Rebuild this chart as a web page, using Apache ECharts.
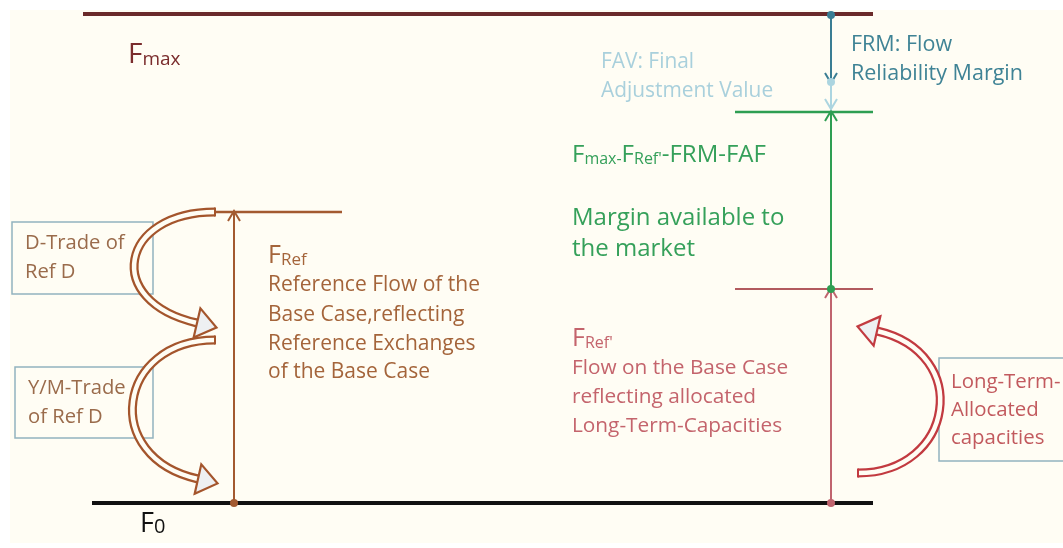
<!DOCTYPE html>
<html lang="en">
<head>
  <meta charset="UTF-8">
  <title>Flow margins</title>
  <script src="https://cdn.jsdelivr.net/npm/echarts@6/dist/echarts.min.js"></script>
  <style>
    html, body { margin: 0; padding: 0; background: #fff; }
    #main { width: 1063px; height: 548px; }
  </style>
</head>
<body>
  <div id="main"></div>
  <script>
    // flow levels (y axis = flow, F0 = 0)
    const levelNames = ['Fmax', 'FRef', "FRef'", 'Fmax-FRM-FAV', 'F0']
    const levelFlow = [489, 291, 214, 391, 0]
    const levelFrom = [83, 215, 735, 735, 92]
    const levelTo = [873, 342, 873, 873, 873]

    // vertical arrows between levels
    const arrowNames = ['FRef', "FRef'", 'Margin', 'FRM', 'FAV']
    const arrowPos = [234, 831, 831, 831, 831]
    const arrowFrom = [0, 0, 214, 488, 421]
    const arrowTo = [291, 214, 391, 421, 395]

    // trade boxes
    const boxNames = ['D-Trade', 'Y/M-Trade', 'Long-Term']
    const boxLeft = [12, 15, 939]
    const boxRight = [153, 153, 1075]
    const boxTop = [281, 136, 145]
    const boxBottom = [209, 65, 42]

    // curved arrows (tail -> head)
    const curveX0 = [215, 215, 858]
    const curveY0 = [291, 163, 30]
    const curveX1 = [197, 198, 877]
    const curveY1 = [180, 24, 172]
    const curveBend = [-95, -98, 96]

    // texts
    const textContent = [
      '{b|F}{s|max}', '{b|F}{s|0}', '{b|F}{s|Ref}',
      'Reference Flow of the', 'Base Case,reflecting', 'Reference Exchanges', 'of the Base Case',
      'D-Trade of', 'Ref D', 'Y/M-Trade', 'of Ref D',
      'FAV: Final', 'Adjustment Value', 'FRM: Flow', 'Reliability Margin',
      "{b|F}{s|max-}{b|F}{s|Ref'}{b|-FRM-FAF}", 'Margin available to', 'the market',
      "{b|F}{s|Ref'}", 'Flow on the Base Case', 'reflecting allocated', 'Long-Term-Capacities',
      'Long-Term-', 'Allocated', 'capacities'
    ]
    const textX = [128, 140, 268, 268, 268, 268, 268, 25, 25, 28, 28, 601, 601, 851, 851,
      572, 572, 572, 572, 572, 572, 572, 951, 951, 951]
    const textY = [448, -21, 247, 218, 188, 159, 131, 260, 231, 115, 86, 441, 412, 458, 429,
      348, 285, 254, 164, 135, 106, 77, 121, 93, 65]
    const textKind = ['fmax', 'f0', 'ref', 'ref', 'ref', 'ref', 'ref', 'box', 'box', 'box', 'box',
      'fav', 'fav', 'frm', 'frm', 'green', 'green2', 'green2', 'red', 'red', 'red', 'red', 'lt', 'lt', 'lt']

    // styles
    const FONT = '"Open Sans", "Noto Sans", sans-serif'
    const CREAM = '#fffdf4'
    const levelColors = ['#6b2a2a', '#a35a30', '#b25a5e', '#2e9e52', '#111111']
    const levelWidths = [4, 2.5, 2, 2.5, 4]
    const arrowColors = ['#a35a30', '#c0646e', '#2e9e52', '#3a7d93', '#acd5e0']
    const curveColors = ['#a4552c', '#a4552c', '#c23a40']
    const kindStyle = {
      fmax: { color: '#7a2c2c', size: 18, b: 28, s: 19 },
      f0: { color: '#111111', size: 18, b: 27, s: 20 },
      ref: { color: '#a4643a', size: 21, b: 25, s: 17 },
      box: { color: '#9a6b4b', size: 20.2 },
      fav: { color: '#a9d0dc', size: 20.9 },
      frm: { color: '#3f8395', size: 21.5 },
      green: { color: '#35a05a', size: 20, b: 24, s: 16 },
      green2: { color: '#35a05a', size: 24 },
      red: { color: '#c4646c', size: 20.8, b: 25, s: 16 },
      lt: { color: '#c25a5e', size: 20.4 }
    }

    const myChart = echarts.init(document.getElementById('main'))

    const option = {
      animation: false,
      backgroundColor: '#ffffff',
      graphic: [{
        type: 'rect', z: -10,
        shape: { x: 10, y: 10, width: 1053, height: 533 },
        style: { fill: CREAM }
      }],
      grid: { left: 0, right: 0, top: 0, bottom: 0 },
      xAxis: { type: 'value', min: 0, max: 1063, show: false },
      yAxis: { type: 'value', min: -45, max: 503, show: false },
      series: [
        {
          // boxes
          type: 'custom',
          data: boxNames.map((n, i) => [boxLeft[i], boxTop[i], boxRight[i], boxBottom[i]]),
          renderItem(params, api) {
            const a = api.coord([api.value(0), api.value(1)])
            const b = api.coord([api.value(2), api.value(3)])
            return {
              type: 'rect',
              shape: { x: a[0], y: a[1], width: b[0] - a[0], height: b[1] - a[1] },
              style: { fill: 'none', stroke: '#93b3bf', lineWidth: 1.5 }
            }
          }
        },
        {
          // levels
          type: 'custom',
          data: levelNames.map((n, i) => [levelFrom[i], levelTo[i], levelFlow[i]]),
          renderItem(params, api) {
            const i = params.dataIndex
            const a = api.coord([api.value(0), api.value(2)])
            const b = api.coord([api.value(1), api.value(2)])
            return {
              type: 'line',
              shape: { x1: a[0], y1: a[1], x2: b[0], y2: b[1] },
              style: { stroke: levelColors[i], lineWidth: levelWidths[i], fill: 'none' }
            }
          }
        },
        {
          // hollow curved arrows
          type: 'custom',
          data: curveX0.map((x, i) => [x, curveY0[i], curveX1[i], curveY1[i], curveBend[i]]),
          renderItem(params, api) {
            const i = params.dataIndex
            const c = curveColors[i]
            const p0 = api.coord([api.value(0), api.value(1)])
            const p3 = api.coord([api.value(2), api.value(3)])
            const bend = api.coord([api.value(0) + api.value(4), api.value(1)])[0] - p0[0]
            const tilt = 22 * Math.sign(bend)
            const p1 = [p0[0] + bend, p0[1]]
            const p2 = [p3[0] + bend, p3[1] + tilt]
            let dx = p3[0] - p2[0], dy = p3[1] - p2[1]
            const len = Math.hypot(dx, dy)
            dx /= len; dy /= len
            const nx = -dy, ny = dx
            const L = 20, W = 15
            const tip = [p3[0] + dx * L, p3[1] + dy * L]
            const shape = { x1: p0[0], y1: p0[1], cpx1: p1[0], cpy1: p1[1], cpx2: p2[0], cpy2: p2[1], x2: p3[0], y2: p3[1] }
            return {
              type: 'group',
              children: [
                { type: 'bezierCurve', shape, style: { stroke: c, lineWidth: 9, fill: 'none' } },
                { type: 'bezierCurve', shape, style: { stroke: CREAM, lineWidth: 4.5, fill: 'none' } },
                {
                  type: 'line',
                  shape: { x1: p0[0], y1: p0[1] - 4.5, x2: p0[0], y2: p0[1] + 4.5 },
                  style: { stroke: c, lineWidth: 2 }
                },
                {
                  type: 'polygon',
                  shape: { points: [[p3[0] + nx * W, p3[1] + ny * W], tip, [p3[0] - nx * W, p3[1] - ny * W]] },
                  style: { fill: '#eef0f2', stroke: c, lineWidth: 2.2 }
                }
              ]
            }
          }
        },
        {
          // vertical arrows
          type: 'custom',
          data: arrowNames.map((n, i) => [arrowPos[i], arrowFrom[i], arrowTo[i]]),
          renderItem(params, api) {
            const i = params.dataIndex
            const c = arrowColors[i]
            const p0 = api.coord([api.value(0), api.value(1)])
            const p1 = api.coord([api.value(0), api.value(2)])
            const dir = p1[1] < p0[1] ? -1 : 1
            const h = 9, w = 6
            return {
              type: 'group',
              children: [
                { type: 'line', shape: { x1: p0[0], y1: p0[1], x2: p1[0], y2: p1[1] }, style: { stroke: c, lineWidth: 2 } },
                {
                  type: 'polyline',
                  shape: { points: [[p1[0] - w, p1[1] - dir * h], [p1[0], p1[1] + dir], [p1[0] + w, p1[1] - dir * h]] },
                  style: { stroke: c, lineWidth: 2, fill: 'none' }
                },
                { type: 'circle', shape: { cx: p0[0], cy: p0[1], r: 4 }, style: { fill: c } }
              ]
            }
          }
        },
        {
          // texts
          type: 'custom',
          data: textContent.map((t, i) => [textX[i], textY[i]]),
          renderItem(params, api) {
            const i = params.dataIndex
            const k = kindStyle[textKind[i]]
            const p = api.coord([api.value(0), api.value(1)])
            const rich = k.b ? {
              b: { fontSize: k.b, lineHeight: k.b, fontFamily: FONT, fill: k.color },
              s: { fontSize: k.s, lineHeight: k.s, fontFamily: FONT, fill: k.color, verticalAlign: 'bottom' }
            } : undefined
            return {
              type: 'text',
              x: p[0], y: p[1],
              style: {
                text: textContent[i],
                fill: k.color,
                fontSize: k.size,
                fontFamily: FONT,
                align: 'left',
                verticalAlign: 'middle',
                rich
              }
            }
          }
        }
      ]
    }

    myChart.setOption(option)
  </script>
</body>
</html>
